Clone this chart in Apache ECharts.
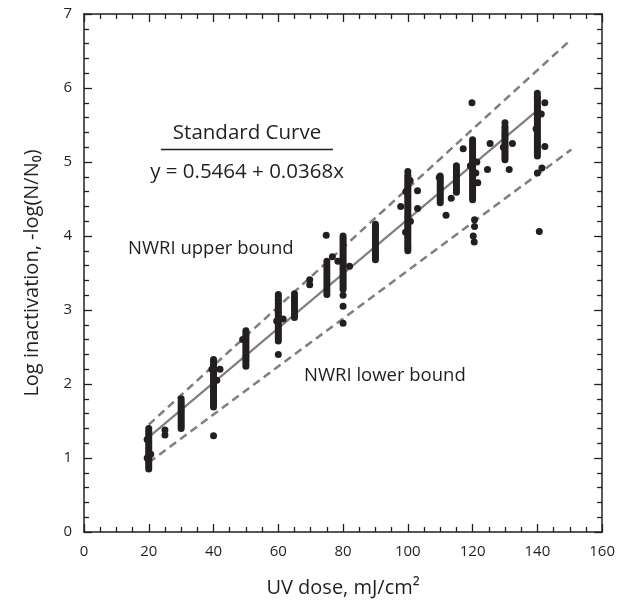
<!DOCTYPE html>
<html><head><meta charset="utf-8">
<script src="https://cdn.jsdelivr.net/npm/echarts@6/dist/echarts.min.js"></script>
<style>html,body{margin:0;padding:0;background:#fff}#c{width:618px;height:603px}</style>
</head><body><div id="c"></div>
<script>
const doseGroups = [20, 30, 40, 50, 60, 65, 75, 80, 90, 100, 110, 115, 120, 130, 140];
const groupValues = [
  [0.85,0.88,0.91,0.94,0.97,1.00,1.03,1.06,1.09,1.12,1.15,1.18,1.21,1.24,1.27,1.30,1.33,1.36,1.40],
  [1.40,1.43,1.46,1.49,1.52,1.55,1.58,1.61,1.64,1.67,1.70,1.73,1.76,1.80],
  [1.69,1.72,1.75,1.78,1.81,1.84,1.87,1.90,1.93,1.96,1.99,2.02,2.05,2.08,2.11,2.14,2.17,2.20,2.23,2.26,2.30,2.33],
  [2.24,2.27,2.30,2.33,2.36,2.39,2.42,2.45,2.48,2.51,2.54,2.57,2.60,2.63,2.66,2.69,2.72],
  [2.58,2.61,2.64,2.67,2.70,2.73,2.76,2.79,2.82,2.85,2.88,2.91,2.94,2.97,3.00,3.03,3.06,3.09,3.12,3.15,3.18,3.21],
  [2.90,2.94,2.98,3.02,3.06,3.10,3.14,3.18,3.22],
  [3.21,3.25,3.29,3.33,3.37,3.41,3.45,3.49,3.53,3.57,3.61,3.66],
  [3.28,3.31,3.34,3.37,3.40,3.43,3.46,3.49,3.52,3.55,3.58,3.61,3.64,3.67,3.70,3.73,3.76,3.79,3.82,3.85,3.88,3.91,3.94,3.97,4.00],
  [3.68,3.71,3.74,3.77,3.80,3.83,3.86,3.89,3.92,3.95,3.98,4.01,4.04,4.07,4.10,4.13,4.16],
  [3.80,3.83,3.86,3.89,3.92,3.95,3.98,4.01,4.04,4.07,4.10,4.13,4.16,4.19,4.22,4.25,4.28,4.31,4.34,4.37,4.40,4.43,4.46,4.49,4.52,4.55,4.58,4.61,4.64,4.67,4.70,4.73,4.76,4.79,4.82,4.87],
  [4.45,4.48,4.51,4.54,4.57,4.60,4.63,4.66,4.69,4.72,4.75,4.78,4.81],
  [4.59,4.62,4.65,4.68,4.71,4.74,4.77,4.80,4.83,4.86,4.89,4.92,4.95],
  [4.49,4.52,4.55,4.58,4.61,4.64,4.67,4.70,4.73,4.76,4.79,4.82,4.85,4.88,4.91,4.94,4.97,5.00,5.03,5.06,5.09,5.12,5.15,5.18,5.21,5.24,5.27,5.30],
  [5.03,5.06,5.09,5.12,5.15,5.18,5.21,5.24,5.27,5.30,5.33,5.36,5.39,5.42,5.45,5.48,5.53],
  [5.08,5.11,5.14,5.17,5.20,5.23,5.26,5.29,5.32,5.35,5.38,5.41,5.44,5.47,5.50,5.53,5.56,5.59,5.62,5.65,5.68,5.71,5.74,5.77,5.80,5.83,5.86,5.89,5.93]
];
const extraPoints = [
  [19.5,1.00],[20.6,1.05],[19.5,1.25],[25,1.31],[25,1.38],[40,1.30],[41,2.05],[42,2.20],[39.5,2.20],
  [49,2.60],[60,2.40],[61.5,2.88],[59.5,2.85],[69.7,3.34],[69.7,3.41],[74.8,4.01],[76.7,3.72],
  [78.4,3.66],[82,3.59],[80,3.20],[80,3.05],[80,2.82],[97.8,4.40],[103,4.61],[103,4.37],
  [99.3,4.05],[100.8,4.20],[99.4,4.60],[100.7,4.75],[111.8,4.28],[113.4,4.51],[109.7,4.79],
  [117.1,5.18],[119.8,5.80],[121.6,4.72],[120.6,4.22],[120.6,4.13],[120.2,4.00],[120.5,3.92],
  [121,4.85],[119.3,4.95],[121.3,5.00],[124.6,4.90],[125.4,5.25],[131.3,4.90],[132.3,5.25],
  [129.5,5.20],[142.3,5.80],[142.3,5.21],[140,4.85],[141.4,4.92],[140.6,4.06],[139.6,5.45],[141.2,5.65]
];
const standardCurve = [[20, 1.2824], [140, 5.6984]];
const upperBound = [[20, 1.45], [150, 6.64]];
const lowerBound = [[20, 0.94], [150.5, 5.17]];

const scatterData = [];
doseGroups.forEach((d, i) => groupValues[i].forEach(v => scatterData.push([d, v])));
extraPoints.forEach(p => scatterData.push(p));

const FONT = '"Open Sans", "Noto Sans", sans-serif';
const INK = '#231f20';
function axisStyle(extra, minorSplit) {
  return Object.assign({
    type: 'value',
    axisLine: { show: true, onZero: false, lineStyle: { color: INK, width: 1.5 } },
    axisTick: { show: true, inside: true, length: 8, lineStyle: { color: INK, width: 1.3 } },
    minorTick: { show: true, splitNumber: minorSplit, length: 5, lineStyle: { color: INK, width: 1.3 } },
    splitLine: { show: false }
  }, extra);
}
const chart = echarts.init(document.getElementById('c'), null, { renderer: 'canvas' });
chart.setOption({
  animation: false,
  backgroundColor: '#fff',
  grid: { left: 84, right: 15, top: 14, bottom: 70, containLabel: false },
  xAxis: [
    axisStyle({ min: 0, max: 160, interval: 20, position: 'bottom',
      axisLabel: { color: INK, fontSize: 15, fontFamily: FONT, margin: 12 },
      name: 'UV dose, mJ/cm²', nameLocation: 'middle', nameGap: 46,
      nameTextStyle: { color: INK, fontSize: 20, fontFamily: FONT } }, 4),
    axisStyle({ min: 0, max: 160, interval: 20, position: 'top', axisLabel: { show: false } }, 4)
  ],
  yAxis: [
    axisStyle({ min: 0, max: 7, interval: 1, position: 'left',
      axisLabel: { color: INK, fontSize: 15, fontFamily: FONT, margin: 12 },
      name: 'Log inactivation, -log(N/N₀)', nameLocation: 'middle', nameGap: 42,
      nameTextStyle: { color: INK, fontSize: 20, fontFamily: FONT } }, 5),
    axisStyle({ min: 0, max: 7, interval: 1, position: 'right', axisLabel: { show: false } }, 5)
  ],
  series: [
    { type: 'line', data: upperBound, symbol: 'none', z: 2,
      lineStyle: { color: '#7f7f7f', width: 2.5, type: [8, 5] } },
    { type: 'line', data: lowerBound, symbol: 'none', z: 2,
      lineStyle: { color: '#7f7f7f', width: 2.5, type: [8, 5] } },
    { type: 'line', data: standardCurve, symbol: 'none', z: 2,
      lineStyle: { color: '#7f7f7f', width: 2.2 } },
    { type: 'scatter', data: scatterData, symbol: 'circle', symbolSize: 7, z: 3,
      itemStyle: { color: INK, opacity: 1 } }
  ],
  graphic: [
    { type: 'text', x: 247, y: 133, style: { text: 'Standard Curve', fill: INK, font: '20.5px ' + FONT, textAlign: 'center', textVerticalAlign: 'middle' } },
    { type: 'line', shape: { x1: 161, y1: 149.5, x2: 333, y2: 149.5 }, style: { stroke: INK, lineWidth: 1.3 } },
    { type: 'text', x: 247, y: 172.5, style: { text: 'y = 0.5464 + 0.0368x', fill: INK, font: '20.5px ' + FONT, textAlign: 'center', textVerticalAlign: 'middle' } },
    { type: 'text', x: 128, y: 248.5, style: { text: 'NWRI upper bound', fill: INK, font: '18.5px ' + FONT, textAlign: 'left', textVerticalAlign: 'middle' } },
    { type: 'text', x: 304, y: 375.5, style: { text: 'NWRI lower bound', fill: INK, font: '18.5px ' + FONT, textAlign: 'left', textVerticalAlign: 'middle' } }
  ]
});
</script></body></html>
